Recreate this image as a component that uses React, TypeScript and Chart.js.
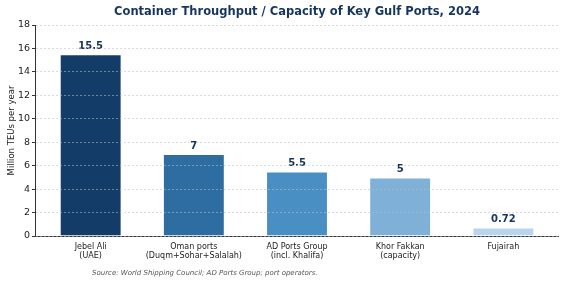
import React, { useEffect, useRef } from "react";
import { Chart, registerables } from "chart.js";

Chart.register(...registerables);

const categories: string[][] = [
  ["Jebel Ali", "(UAE)"],
  ["Oman ports", "(Duqm+Sohar+Salalah)"],
  ["AD Ports Group", "(incl. Khalifa)"],
  ["Khor Fakkan", "(capacity)"],
  ["Fujairah"],
];
const values: number[] = [15.5, 7, 5.5, 5, 0.72];
const valueLabels: string[] = ["15.5", "7", "5.5", "5", "0.72"];
const barColors: string[] = ["#143c69", "#2e6da1", "#4a8fc4", "#7fb1d8", "#b8d5ed"];
const yTicks: number[] = [0, 2, 4, 6, 8, 10, 12, 14, 16, 18];
const titleText = "Container Throughput / Capacity of Key Gulf Ports, 2024";
const yTitle = "Million TEUs per year";
const sourceText = "Source: World Shipping Council; AD Ports Group; port operators.";

const FONT = "'DejaVu Sans', sans-serif";
const NAVY = "#15345e";

const textPlugin = {
  id: "texts",
  afterDatasetsDraw(chart: any) {
    const ctx = chart.ctx;
    const area = chart.chartArea;
    const meta = chart.getDatasetMeta(0);
    ctx.save();
    ctx.fillStyle = NAVY;
    ctx.font = `bold 10px ${FONT}`;
    ctx.textAlign = "center";
    ctx.textBaseline = "bottom";
    meta.data.forEach((bar: any, i: number) => {
      ctx.fillText(valueLabels[i], bar.x, bar.y - 3);
    });
    ctx.font = `bold 11.5px ${FONT}`;
    ctx.textBaseline = "middle";
    ctx.fillText(titleText, (area.left + area.right) / 2, 12);
    ctx.font = `italic 7px ${FONT}`;
    ctx.fillStyle = "#555555";
    ctx.textAlign = "left";
    ctx.fillText(sourceText, 92, 273);
    ctx.strokeStyle = "#333333";
    ctx.lineWidth = 1;
    ctx.beginPath();
    ctx.moveTo(Math.round(area.left) - 0.5, area.top);
    ctx.lineTo(Math.round(area.left) - 0.5, area.bottom);
    ctx.stroke();
    ctx.restore();
  },
};

export default function App() {
  const ref = useRef<HTMLCanvasElement>(null);
  useEffect(() => {
    document.body.style.margin = "0";
    const chart = new Chart(ref.current!, {
      type: "bar",
      data: {
        datasets: [
          {
            data: values.map((v, i) => ({ x: i, y: v })),
            backgroundColor: barColors,
            borderColor: "rgba(255,255,255,0.5)",
            borderWidth: 1,
            barPercentage: 0.6,
            categoryPercentage: 1,
          },
        ],
      },
      options: {
        animation: false,
        responsive: false,
        maintainAspectRatio: false,
        layout: { padding: { top: 25, right: 7, left: 0, bottom: 0 } },
        plugins: {
          legend: { display: false },
          tooltip: { enabled: false },
          title: { display: false },
        },
        scales: {
          x: {
            type: "linear",
            min: -0.53,
            max: 4.53,
            offset: false,
            afterBuildTicks: (s: any) => {
              s.ticks = categories.map((_, i) => ({ value: i }));
            },
            grid: { display: false, drawTicks: true, tickLength: 4, tickColor: "#333333" },
            border: { display: true, color: "#333333", width: 1 },
            ticks: {
              color: "#222222",
              font: { family: FONT, size: 8 },
              maxRotation: 0,
              autoSkip: false,
              padding: 2,
              callback: (v: any) => categories[Math.round(v)] ?? "",
            },
            afterFit: (s: any) => {
              s.height = 48;
            },
          },
          y: {
            min: 0,
            max: 18,
            afterBuildTicks: (s: any) => {
              s.ticks = yTicks.map((v) => ({ value: v }));
            },
            grid: {
              color: "rgba(190,190,190,0.55)",
              tickColor: "#333333",
              tickLength: 4,
              z: 1,
            },
            border: { display: false, dash: [2, 2] },
            ticks: {
              color: "#222222",
              font: { family: FONT, size: 9.5 },
              padding: 2,
            },
            title: {
              display: true,
              text: yTitle,
              color: "#222222",
              font: { family: FONT, size: 8.5 },
              padding: { top: 7, bottom: 0 },
            },
            afterFit: (s: any) => {
              s.width = 36;
            },
          },
        },
      },
      plugins: [textPlugin],
    } as any);
    return () => chart.destroy();
  }, []);
  return (
    <div style={{ width: 565, height: 284 }}>
      <canvas ref={ref} width={565} height={284} />
    </div>
  );
}
